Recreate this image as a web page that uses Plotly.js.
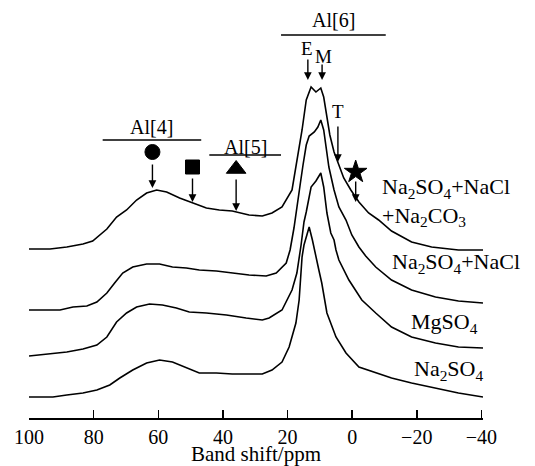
<!DOCTYPE html>
<html>
<head>
<meta charset="utf-8">
<script src="https://cdn.plot.ly/plotly-3.0.1.min.js"></script>
<style>html,body{margin:0;padding:0;background:#fff;}#chart{width:535px;height:466px;}</style>
</head>
<body>
<div id="chart"></div>
<script>
// ---- Data (chemical shift in ppm, intensity above each spectrum's baseline) ----
const seriesNames = ["Na<sub>2</sub>SO<sub>4</sub>+NaCl<br>+Na<sub>2</sub>CO<sub>3</sub>", "Na<sub>2</sub>SO<sub>4</sub>+NaCl", "MgSO<sub>4</sub>", "Na<sub>2</sub>SO<sub>4</sub>"];
const stackOffsets = [169, 108, 62, 21];

const ppm1 = [100, 93.5, 88.3, 83.3, 80.3, 78.1, 75.9, 72.9, 69.8, 66.7, 63.6, 60.5, 57.4, 53.4, 49.4, 45.1, 41.1, 37.1, 31.9, 27.8, 24.8, 21.7, 18.6, 17.1, 15.5, 14.2, 12.7, 11.2, 9.7, 8.8, 7.8, 6.9, 5.6, 4.4, 2.6, 0.4, -2.1, -5.1, -8.2, -12.2, -18.4, -24.6, -32.9, -40.5];
const int1 = [0, 0, 2, 5, 8, 14, 20, 32, 39, 49, 56, 59, 57, 51, 46, 41, 39, 38, 34, 33, 36, 42, 59, 86, 119, 149, 162, 157, 161, 152, 134, 114, 97, 86, 71, 59, 47, 36, 29, 18, 7, 2, -1, -1];

const ppm2 = [100, 90.4, 86.4, 82.1, 79.0, 75.9, 73.5, 71.0, 67.9, 63.6, 59.6, 55.6, 51.3, 47.3, 42.0, 37.1, 31.9, 26.6, 23.5, 20.4, 19.2, 18.0, 17.1, 16.1, 15.2, 14.2, 13.3, 11.7, 10.6, 9.7, 8.8, 8.1, 7.2, 5.6, 4.1, 1.9, 0.1, -2.1, -4.2, -7.3, -12.2, -18.4, -25.8, -32.9, -40.5];
const int2 = [0, 0, 3, 4, 8, 17, 27, 37, 43, 46, 46, 43, 42, 40, 39, 37, 35, 34, 37, 47, 60, 82, 105, 125, 145, 165, 174, 178, 183, 190, 180, 163, 143, 120, 103, 90, 75, 63, 54, 43, 30, 20, 13, 9, 7];

const ppm3 = [100, 93.5, 88.3, 83.3, 79.0, 75.9, 72.9, 69.8, 66.7, 62.7, 58.7, 54.4, 50.4, 45.1, 38.9, 32.8, 27.8, 25.7, 21.7, 18.6, 17.1, 15.8, 14.9, 14.2, 13.3, 12.7, 11.2, 9.7, 8.8, 7.8, 6.6, 5.6, 5.0, 4.1, 1.0, -3.0, -7.3, -12.2, -18.4, -25.8, -32.9, -40.5];
const int3 = [0, 2, 4, 7, 11, 19, 34, 43, 49, 52, 51, 48, 44, 43, 41, 38, 36, 38, 46, 66, 83, 111, 134, 144, 161, 169, 175, 183, 169, 143, 123, 116, 106, 96, 76, 56, 43, 29, 19, 13, 9, 8];

const ppm4 = [100, 96.6, 92.6, 88.3, 83.3, 79.0, 75.0, 71.9, 67.9, 63.6, 59.6, 55.6, 51.3, 47.3, 42.0, 37.1, 31.9, 27.8, 24.8, 21.7, 19.5, 17.4, 16.4, 15.5, 14.9, 14.2, 13.3, 12.3, 11.2, 10.3, 9.4, 7.8, 5.0, 1.9, -2.1, -7.6, -12.2, -18.4, -25.8, -32.9, -40.5];
const int4 = [0, 0, 0, 2, 4, 7, 12, 19, 27, 34, 37, 35, 29, 24, 24, 23, 23, 23, 27, 35, 50, 74, 97, 140, 152, 160, 170, 157, 142, 127, 114, 84, 60, 44, 30, 24, 19, 14, 9, 4, 0];

const tickValues = [100, 80, 60, 40, 20, 0, -20, -40];
const tickLabels = ["100", "80", "60", "40", "20", "0", "\u221220", "\u221240"];

// site markers: shift (ppm) of Al sites
const siteShifts = [61.8, 49.4, 35.9, -1.1];
const siteSymbols = ["circle", "square", "triangle-up", "star"];
const peakLabels = ["E", "M", "T"];
const peakShifts = [13.7, 9.3, 4.4];
const regionLabels = ["Al[4]", "Al[5]", "Al[6]"];
const regionRanges = [[77.2, 46.7], [44.2, 22.0], [22.0, -10.4]];

// ---- Layout helpers ----
const FONT = "Liberation Serif, Times New Roman, serif";
const ppmSets = [ppm1, ppm2, ppm3, ppm4];
const intSets = [int1, int2, int3, int4];

const traces = ppmSets.map((p, i) => ({
  x: p,
  y: intSets[i].map(v => v + stackOffsets[i]),
  type: "scatter", mode: "lines",
  line: {color: "#000", width: 1.6},
  hoverinfo: "skip", showlegend: false
}));

const siteMarkerY = [266, 251, 249, 246];
const siteMarkerSize = [15, 14, 17, 17];
traces.push({
  x: siteShifts, y: siteMarkerY, type: "scatter", mode: "markers",
  opacity: 1,
  marker: {symbol: siteSymbols, size: siteMarkerSize, color: "rgb(0,0,0)", opacity: 1,
           line: {width: 1, color: "rgb(0,0,0)"}},
  hoverinfo: "skip", showlegend: false
});

const annotations = [];
// site arrows
const siteArrowTip = [230, 216, 207, 216];
const siteArrowLen = [25, 25, 33, 22];
siteShifts.forEach((s, i) => {
  annotations.push({x: s, y: siteArrowTip[i], xref: "x", yref: "y", text: "", showarrow: true,
    ax: 0, ay: -siteArrowLen[i], arrowhead: 2, arrowsize: 1.1, arrowwidth: 1.4, arrowcolor: "#000"});
});
// peak arrows
const peakArrowTip = [338, 338, 256];
const peakArrowLen = [22, 17, 37];
const peakTextPos = [[14.0, 370], [9.0, 362], [4.4, 307]];
peakShifts.forEach((s, i) => {
  annotations.push({x: s, y: peakArrowTip[i], xref: "x", yref: "y", text: "", showarrow: true,
    ax: 0, ay: -peakArrowLen[i], arrowhead: 2, arrowsize: 1.1, arrowwidth: 1.4, arrowcolor: "#000"});
  annotations.push({x: peakTextPos[i][0], y: peakTextPos[i][1], xref: "x", yref: "y", text: peakLabels[i],
    showarrow: false, font: {family: FONT, size: 19, color: "#000"}, xanchor: "center", yanchor: "middle"});
});
// region labels
const regionTextY = [291, 271, 398];
const regionLineY = [278, 263, 383];
const shapes = [];
regionLabels.forEach((t, i) => {
  const r = regionRanges[i];
  annotations.push({x: (r[0] + r[1]) / 2, y: regionTextY[i], xref: "x", yref: "y", text: t,
    showarrow: false, font: {family: FONT, size: 20, color: "#000"}, xanchor: "center", yanchor: "middle"});
  shapes.push({type: "line", xref: "x", yref: "y", x0: r[0], x1: r[1], y0: regionLineY[i], y1: regionLineY[i],
    line: {color: "#000", width: 1.5}});
});
// series labels
const seriesLabelPos = [[-8.5, 216], [-11.6, 155], [-17.5, 95], [-18.4, 48]];
seriesNames.forEach((n, i) => {
  annotations.push({x: seriesLabelPos[i][0], y: seriesLabelPos[i][1], xref: "x", yref: "y", text: n,
    showarrow: false, align: "left", xanchor: "left", yanchor: "middle",
    font: {family: FONT, size: 22, color: "#000"}});
});

const layout = {
  width: 535, height: 466,
  margin: {l: 29, r: 52, t: 0, b: 48, pad: 0},
  paper_bgcolor: "#fff", plot_bgcolor: "#fff",
  showlegend: false,
  xaxis: {
    range: [100, -40.5], showgrid: false, zeroline: false,
    showline: true, linecolor: "#000", linewidth: 1.5,
    ticks: "inside", ticklen: 8, tickwidth: 1.5, tickcolor: "#000",
    tickvals: tickValues, ticktext: tickLabels,
    tickfont: {family: FONT, size: 20, color: "#000"},
    title: {text: "Band shift/ppm", font: {family: FONT, size: 21, color: "#000"}, standoff: 6}
  },
  yaxis: {range: [0, 418], visible: false, fixedrange: true},
  annotations: annotations,
  shapes: shapes
};

Plotly.newPlot("chart", traces, layout, {staticPlot: true, displayModeBar: false});
</script>
</body>
</html>
